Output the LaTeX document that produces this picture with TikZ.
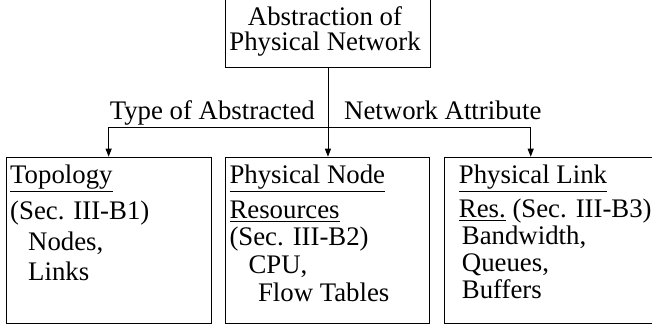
\documentclass[tikz,border=0pt]{standalone}
\usepackage{fontspec}
\setmainfont{Liberation Serif}
\usetikzlibrary{arrows.meta}
\newbox\ulboxx
% \ulx[depth of the rule below the baseline]{text}
\newcommand\ulx[2][9pt]{\setbox\ulboxx\hbox{#2}\rlap{\raisebox{-#1}[0pt][0pt]{\rule{\wd\ulboxx}{0.9pt}}}\box\ulboxx}
\begin{document}
\begin{tikzpicture}[x=1pt,y=-1pt,
  box/.style={draw, line width=0.9pt, inner sep=0pt, anchor=north west},
  conn/.style={draw, line width=0.9pt, -{Triangle[length=8pt,width=6pt]}},
  txt/.style={inner sep=0pt, font=\fontsize{26.8}{29.5}\selectfont, align=left, anchor=base west},
  lbl/.style={inner sep=0pt, font=\fontsize{26.8}{29.5}\selectfont}]
\useasboundingbox (0,0) rectangle (652,330);
\clip (0,0) rectangle (652,330);
% boxes
\node[box, minimum width=205pt, minimum height=87pt] (topbox) at (225,-20) {};
\node[box, minimum width=205pt, minimum height=166.6pt] (leftbox) at (5.7,156.7) {};
\node[box, minimum width=204.3pt, minimum height=166.6pt] (midbox) at (225,156.7) {};
\node[box, minimum width=230pt, minimum height=166.6pt] (rightbox) at (443.7,156.7) {};
% texts (base anchor = baseline of the last line)
\node[inner sep=0pt, font=\fontsize{26.8}{25}\selectfont, align=center, anchor=base] (toptxt) at (325,50) {Abstraction of\\Physical Network};
\node[txt, font=\fontsize{26.8}{30.5}\selectfont] (lefttxt) at (10,280.5) {\ulx{Topology}\\[6pt](Sec. III-B1)\\\hspace*{18pt}Nodes,\\\hspace*{18pt}Links};
\node[txt, font=\fontsize{26.8}{27.8}\selectfont] (midtxt) at (229.3,301.4) {\ulx{Physical Node}\\[7.2pt]\ulx[3.6pt]{Resources}\\(Sec. III-B2)\\\hspace*{19pt}CPU,\\\hspace*{28.5pt}Flow Tables};
\node[txt, font=\fontsize{26.8}{27}\selectfont] (righttxt) at (458.7,298.5) {\ulx{Physical Link}\\[7.5pt]\ulx[3.6pt]{Res.} (Sec. III-B3)\\\hspace*{3pt}Bandwidth,\\\hspace*{3pt}Queues,\\\hspace*{3pt}Buffers};
\node[lbl, anchor=base east] (labA) at (315,119) {Type of Abstracted};
\node[lbl, anchor=base west] (labB) at (344,119) {Network Attribute};
% connectors
\coordinate (j) at (topbox.south |- 0,127.3);
\coordinate (rt) at (530.7,156.7);
\draw[conn] (topbox.south) -- (topbox.south |- midbox.north);
\draw[conn] (j) -| (leftbox.north);
\draw[conn] (j) -| (rt);
\end{tikzpicture}
\end{document}
